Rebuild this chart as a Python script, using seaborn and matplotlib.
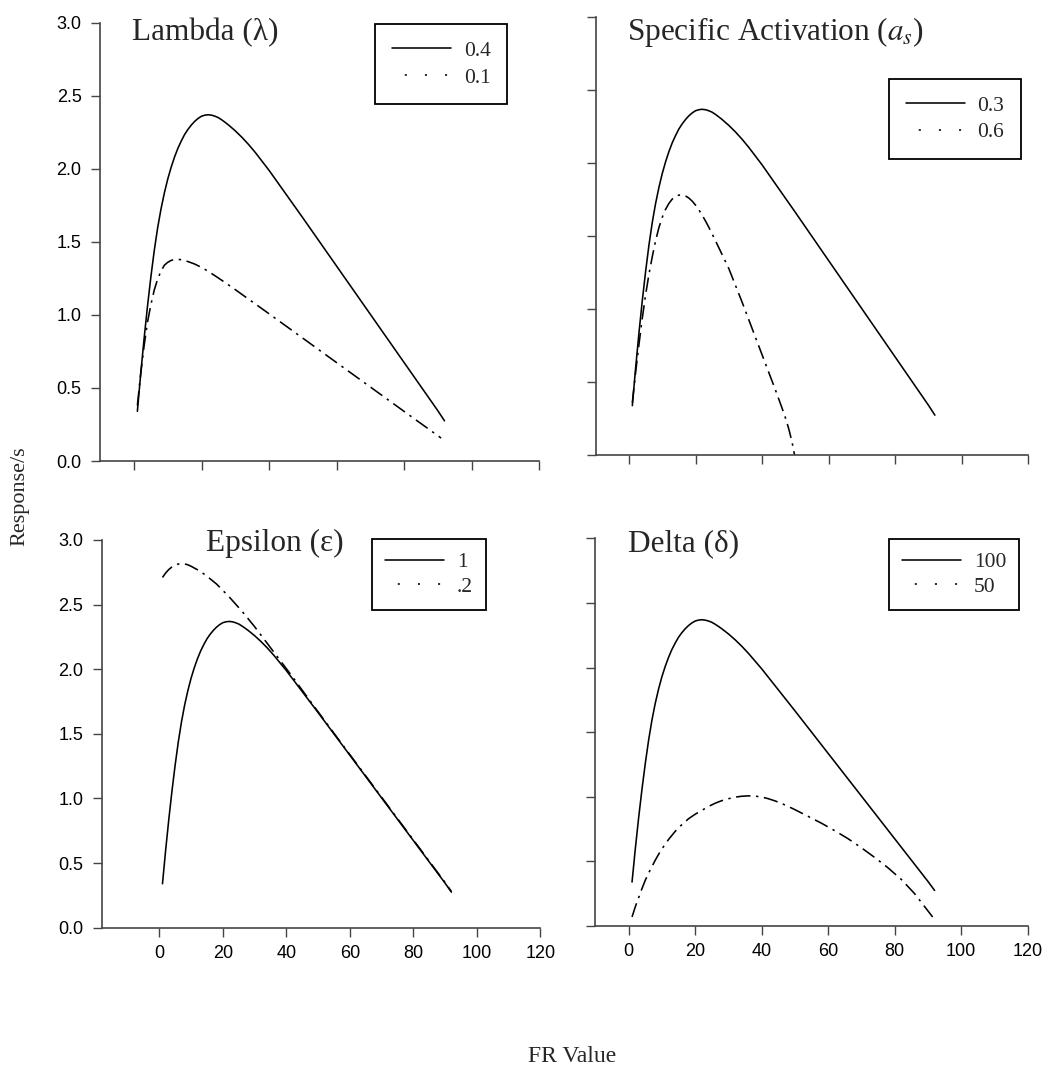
import matplotlib
matplotlib.use("Agg")
import matplotlib.pyplot as plt
from matplotlib.lines import Line2D
import seaborn as sns
import pandas as pd

# ---------------- data ----------------
# baseline curve (solid) shared by all four panels
fr_base = [1, 1.5, 2, 2.5, 3, 3.5, 4, 5, 6, 7, 8, 9, 10, 11, 12, 13, 14, 15, 16,
           17, 18, 19, 20, 21, 22, 23, 24, 25, 26, 27, 28, 30, 32, 34, 36, 38,
           40, 42, 44, 46, 48, 50, 55, 60, 65, 70, 75, 80, 85, 90, 92]
resp_base = [0.34, 0.47, 0.60, 0.72, 0.84, 0.95, 1.06, 1.26, 1.44, 1.595, 1.725,
             1.835, 1.93, 2.01, 2.08, 2.14, 2.19, 2.235, 2.27, 2.30, 2.325, 2.345,
             2.36, 2.367, 2.37, 2.367, 2.36, 2.35, 2.335, 2.318, 2.30, 2.26,
             2.215, 2.165, 2.11, 2.05, 1.99, 1.925, 1.86, 1.795, 1.73, 1.665,
             1.50, 1.335, 1.17, 1.005, 0.84, 0.675, 0.51, 0.345, 0.275]

# Lambda = 0.1
fr_lam01 = [1, 2, 3, 4, 5, 6, 7, 8, 9, 10, 11, 12, 13, 14, 15, 16, 18, 20, 22,
            24, 26, 28, 30, 34, 40, 50, 60, 70, 80, 91]
resp_lam01 = [0.38, 0.60, 0.79, 0.95, 1.07, 1.17, 1.245, 1.30, 1.34, 1.36, 1.373,
              1.379, 1.38, 1.378, 1.372, 1.365, 1.348, 1.325, 1.298, 1.268,
              1.237, 1.205, 1.173, 1.107, 1.008, 0.841, 0.674, 0.507, 0.340,
              0.157]

# Specific activation = 0.6
fr_as06 = [1, 2, 3, 4, 5, 6, 7, 8, 9, 10, 11, 12, 13, 14, 15, 16, 17, 18, 19,
           20, 21, 22, 23, 24, 26, 28, 30, 32, 34, 36, 38, 40, 42, 44, 46, 47,
           48, 49, 49.8]
resp_as06 = [0.36, 0.57, 0.76, 0.94, 1.10, 1.24, 1.36, 1.47, 1.56, 1.63, 1.685,
             1.725, 1.755, 1.773, 1.782, 1.783, 1.776, 1.762, 1.741, 1.714,
             1.682, 1.645, 1.605, 1.562, 1.47, 1.375, 1.28, 1.165, 1.05, 0.93,
             0.81, 0.69, 0.57, 0.45, 0.325, 0.26, 0.185, 0.095, 0.0]

# Epsilon = .2
fr_eps02 = [1, 2, 3, 4, 5, 6, 7, 8, 9, 10, 12, 14, 16, 18, 20, 22, 24, 26, 28,
            30, 32, 34, 36, 38, 40, 42, 44, 46, 48, 50, 55, 60, 65, 70, 75, 80,
            85, 90, 92]
resp_eps02 = [2.71, 2.745, 2.772, 2.792, 2.806, 2.814, 2.817, 2.815, 2.808,
              2.797, 2.77, 2.738, 2.70, 2.66, 2.61, 2.56, 2.505, 2.45, 2.39,
              2.33, 2.265, 2.20, 2.135, 2.07, 2.005, 1.94, 1.872, 1.805, 1.738,
              1.671, 1.505, 1.34, 1.175, 1.01, 0.845, 0.68, 0.515, 0.35, 0.28]

# Delta = 50
fr_del50 = [1, 2, 3, 4, 5, 6, 7, 8, 9, 10, 12, 14, 16, 18, 20, 22, 24, 26, 28,
            30, 32, 34, 36, 38, 40, 42, 44, 46, 48, 50, 54, 58, 62, 66, 70, 74,
            78, 82, 86, 89, 92]
resp_del50 = [0.07, 0.15, 0.22, 0.29, 0.355, 0.41, 0.46, 0.51, 0.555, 0.597,
              0.67, 0.733, 0.785, 0.83, 0.865, 0.895, 0.925, 0.95, 0.97, 0.985,
              0.997, 1.004, 1.007, 1.005, 0.998, 0.985, 0.968, 0.948, 0.925,
              0.90, 0.848, 0.795, 0.737, 0.675, 0.605, 0.53, 0.45, 0.36, 0.25,
              0.15, 0.05]

panel_titles = ["Lambda (\u03bb)", "Specific Activation ($a_s$)",
                "Epsilon (\u03b5)", "Delta (\u03b4)"]
legend_labels = [["0.4", "0.1"], ["0.3", "0.6"], ["1", ".2"], ["100", "50"]]
x_ticks = [0, 20, 40, 60, 80, 100, 120]
y_ticks = [0.0, 0.5, 1.0, 1.5, 2.0, 2.5, 3.0]
x_label = "FR Value"
y_label = "Response/s"

# ---------------- style ----------------
sns.set_style("ticks")
plt.rcParams["font.family"] = ["Liberation Sans", "DejaVu Sans"]
plt.rcParams["mathtext.fontset"] = "stix"
SERIF = ["Liberation Serif", "DejaVu Serif"]

W, H = 1060, 1070
fig = plt.figure(figsize=(W / 100, H / 100), dpi=100)


def fx(px):
    return px / W


def fy(py):
    return 1 - py / H


# axes rectangles in pixels: (left, right, top, bottom) + xlim
panels = [
    dict(box=(100.25, 539.0, 22.7, 461.0), xlim=(-10, 120)),
    dict(box=(595.75, 1028.0, 17.3, 455.3), xlim=(-10, 120)),
    dict(box=(102.15, 540.3, 540.0, 927.7), xlim=(-18, 120)),
    dict(box=(595.45, 1027.7, 538.3, 926.0), xlim=(-10, 120)),
]

series = [
    (fr_base, resp_base, fr_lam01, resp_lam01),
    (fr_base, resp_base, fr_as06, resp_as06),
    (fr_base, resp_base, fr_eps02, resp_eps02),
    (fr_base, resp_base, fr_del50, resp_del50),
]

# title left x, baseline y (pixels)
title_pos = [(131.7, 40.7), (626.7, 40.0), (205.7, 551.0), (627.7, 551.0)]
# legend box upper-left (pixels)
legend_pos = [(375.3, 24.0), (889.0, 78.7), (372.3, 539.3), (889.3, 539.3)]

DASHDOT = (0, (9, 3.5, 1.5, 3.5))
LW = 1.15
AXC = "#444444"

for i, p in enumerate(panels):
    l, r, t, b = p["box"]
    ax = fig.add_axes([fx(l), fy(b), (r - l) / W, (b - t) / H])
    xs, ys, xd, yd = series[i]
    df_s = pd.DataFrame({"fr": xs, "resp": ys})
    df_d = pd.DataFrame({"fr": xd, "resp": yd})
    sns.lineplot(data=df_s, x="fr", y="resp", ax=ax, color="black", lw=LW,
                 estimator=None, sort=True)
    sns.lineplot(data=df_d, x="fr", y="resp", ax=ax, color="black", lw=LW,
                 estimator=None, sort=True, linestyle=DASHDOT)
    ax.set_xlim(*p["xlim"])
    ax.set_ylim(0, 3)
    ax.set_xticks(x_ticks)
    ax.set_yticks(y_ticks)
    ax.set_xlabel("")
    ax.set_ylabel("")
    for s in ["top", "right"]:
        ax.spines[s].set_visible(False)
    for s in ["left", "bottom"]:
        ax.spines[s].set_color(AXC)
        ax.spines[s].set_linewidth(1.2)
    ax.tick_params(direction="out", length=6.5, width=1.0, color=AXC,
                   labelsize=13, labelcolor="black")
    ax.tick_params(axis="y", pad=7)
    ax.tick_params(axis="x", pad=6)
    if i in (0, 1):
        ax.tick_params(axis="x", labelbottom=False)
    else:
        ax.set_xticklabels([str(v) for v in x_ticks])
    if i in (1, 3):
        ax.tick_params(axis="y", labelleft=False)
    else:
        ax.set_yticklabels([f"{v:.1f}" for v in y_ticks])

    tx, ty = title_pos[i]
    fig.text(fx(tx), fy(ty), panel_titles[i], family=SERIF, fontsize=22.5,
             ha="left", va="baseline")

    handles = [
        Line2D([], [], color="black", lw=LW, linestyle="-"),
        Line2D([], [], color="black", lw=LW, linestyle=(4.6, (1.3, 11.3))),
    ]
    lx, ly = legend_pos[i]
    bottom_row = i >= 2
    leg = ax.legend(handles, legend_labels[i], loc="upper left",
                    bbox_to_anchor=(fx(lx), fy(ly)),
                    bbox_transform=fig.transFigure, borderaxespad=0,
                    frameon=True, fancybox=False, framealpha=1,
                    edgecolor="black", prop={"family": SERIF, "size": 15.5},
                    handlelength=2.73, handletextpad=0.6,
                    borderpad=0.78 if not bottom_row else 0.6,
                    labelspacing=0.31 if not bottom_row else 0.2)
    leg.get_frame().set_linewidth(1.3)

fig.text(fx(572.5), fy(1056), x_label, family=SERIF, fontsize=17,
         ha="center", va="center")
fig.text(fx(20), fy(496), y_label, family=SERIF, fontsize=16,
         ha="center", va="center", rotation=90)

fig.savefig("out.png", dpi=100)
